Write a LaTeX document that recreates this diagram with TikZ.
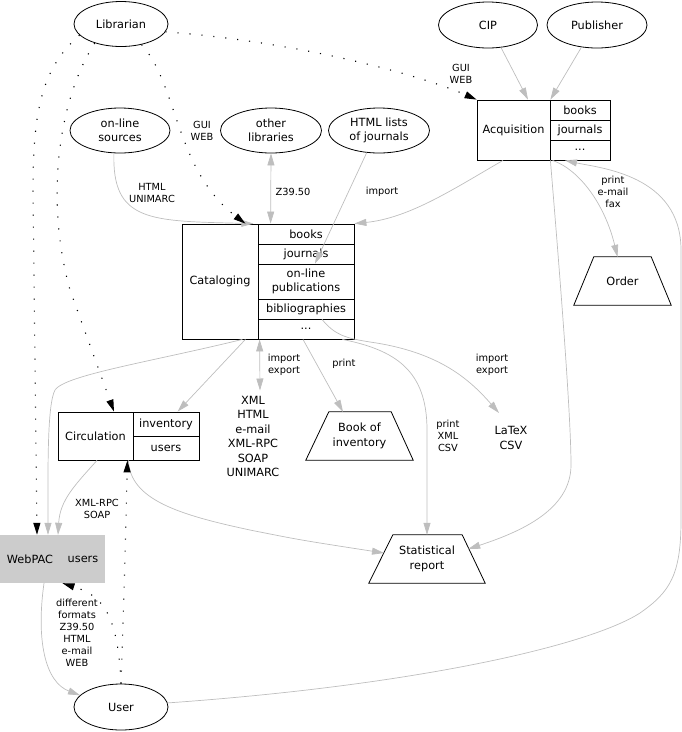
\documentclass[tikz,border=0pt]{standalone}
\usepackage{fontspec}
\setmainfont{DejaVu Sans}
\usetikzlibrary{arrows.meta,shapes.geometric,calc}
\definecolor{edgegray}{HTML}{BEBEBE}
\definecolor{boxgray}{HTML}{CCCCCC}
\newcommand\ndfont{\fontsize{11.3pt}{14.5pt}\selectfont}
\newcommand\lbfont{\fontsize{9.8pt}{12pt}\selectfont}
\begin{document}
\begin{tikzpicture}[x=1pt,y=-1pt,
  every node/.style={inner sep=0pt, font=\ndfont, align=center},
  ell/.style={draw, ellipse, line width=0.8pt},
  cell/.style={draw, rectangle, line width=0.8pt},
  trapbox/.style={rectangle, minimum height=48pt},
  trapline/.style={line width=0.8pt, line join=miter},
  lbl/.style={font=\lbfont, align=center},
  gedge/.style={draw=edgegray, line width=0.7pt, -{Triangle[length=12pt,width=7pt]}},
  gboth/.style={draw=edgegray, line width=0.7pt, {Triangle[length=12pt,width=7pt]}-{Triangle[length=12pt,width=7pt]}},
  dotarrow/.style={draw=black, line width=1.1pt, dash pattern=on 1.1pt off 10.9pt, -{Triangle[length=12pt,width=7pt]}}]
\useasboundingbox (0,0) rectangle (682,732);

% ellipses
\node[ell, minimum width=94pt, minimum height=45pt] (lib) at (121,24) {Librarian};
\node[ell, minimum width=99pt, minimum height=46pt] (cip) at (488,25) {CIP};
\node[ell, minimum width=100pt, minimum height=46pt] (pub) at (597,25) {Publisher};
\node[ell, minimum width=100pt, minimum height=45pt] (ons) at (120,130.5) {on-line\\sources};
\node[ell, minimum width=101pt, minimum height=45pt] (oth) at (271,130.5) {other\\libraries};
\node[ell, minimum width=101pt, minimum height=45pt] (html) at (379,130.5) {HTML lists\\of journals};
\node[ell, minimum width=94pt, minimum height=46pt] (user) at (121,707) {User};

% Acquisition record
\node[cell, minimum width=73pt, minimum height=60pt] (acqL) at (513.5,130) {Acquisition};
\node[cell, minimum width=60pt, minimum height=20pt] (acqB) at (580,110) {books};
\node[cell, minimum width=60pt, minimum height=20pt] (acqJ) at (580,130) {journals};
\node[cell, minimum width=60pt, minimum height=20pt] (acqD) at (580,150) {...};

% Cataloging record
\node[cell, minimum width=76pt, minimum height=115pt] (catL) at (220,281.5) {Cataloging};
\node[cell, minimum width=96pt, minimum height=20pt] (catB) at (306,234) {books};
\node[cell, minimum width=96pt, minimum height=20pt] (catJ) at (306,254) {journals};
\node[cell, minimum width=96pt, minimum height=35pt] (catO) at (306,281.5) {on-line\\publications};
\node[cell, minimum width=96pt, minimum height=20pt] (catBi) at (306,309) {bibliographies};
\node[cell, minimum width=96pt, minimum height=20pt] (catD) at (306,329) {...};

% Circulation record
\node[cell, minimum width=75pt, minimum height=48pt] (circL) at (95.5,436) {Circulation};
\node[cell, minimum width=66pt, minimum height=24pt] (circI) at (166,424) {inventory};
\node[cell, minimum width=66pt, minimum height=24pt] (circU) at (166,448) {users};

% WebPAC
\node[fill=boxgray, minimum width=105pt, minimum height=48pt] (wp) at (52.5,559) {};
\node (wpt) at (30,559) {WebPAC};
\node (wpu) at (83,559) {users};

% trapezoids
\node[trapbox, minimum width=97pt] (order) at (622.5,281) {Order};
\draw[trapline] ([shift={(20,0)}]order.north west) -- ([shift={(-20,0)}]order.north east) -- (order.south east) -- (order.south west) -- cycle;
\node[trapbox, minimum width=107pt] (book) at (359.5,436) {Book of\\inventory};
\draw[trapline] ([shift={(23,0)}]book.north west) -- ([shift={(-22,0)}]book.north east) -- (book.south east) -- (book.south west) -- cycle;
\node[trapbox, minimum width=116pt] (stat) at (427,559) {Statistical\\report};
\draw[trapline] ([shift={(24,0)}]stat.north west) -- ([shift={(-23,0)}]stat.north east) -- (stat.south east) -- (stat.south west) -- cycle;

% plain text nodes
\node (xml) at (253,436.5) {XML\\HTML\\e-mail\\XML-RPC\\SOAP\\UNIMARC};
\node (latex) at (511,438) {LaTeX\\CSV};

% gray edges
\draw[gedge] (cip.-60) -- ([shift={(14.5,0)}]acqL.north);
\draw[gedge] (pub.-125) -- (acqL.north east);
\draw[gedge] (ons.-105) .. controls (112,222) and (150,221) .. ([shift={(-5,0)}]catL.north east);
\draw[gboth] (oth.south) -- ([shift={(13,0)}]catB.north west);
\draw[gedge] (html.-119) -- ([shift={(9,0)}]catO.north);
\draw[gedge] ([shift={(-10.5,0)}]acqL.south) .. controls (455,188) and (410,218) .. (catB.north east);
\draw[gedge] ([shift={(3,0)}]acqD.south west) .. controls (580,170) and (605,205) .. ([shift={(-5,0)}]order.north);
\draw[gedge] (user.5) .. controls (420,685) and (590,645) .. (640,613) .. controls (670,592) and (681,575) .. (681,520) -- (681,250) .. controls (681,175) and (600,168) .. ([shift={(-15,0)}]acqD.south);
\draw[gedge] (acqL.south east) .. controls (562,300) and (571,420) .. (571,465) .. controls (571,510) and (520,532) .. ([shift={(-17,-10)}]stat.east);
\draw[gedge] ([shift={(-13,0)}]catL.south east) -- ([shift={(45,0)}]circI.north west);
\draw[gedge] ([shift={(-16,0)}]catL.south east) .. controls (150,362) and (65,375) .. (55,390) .. controls (47,405) and (48,470) .. ([shift={(-4.5,0)}]wp.north);
\draw[gboth] ([shift={(2,0)}]catD.south west) -- ([shift={(7,-46)}]xml.center);
\draw[gedge] ([shift={(-3,0)}]catD.south) -- ([shift={(-16.5,0)}]book.north);
\draw[gedge] ([shift={(-12,0)}]catD.south east) .. controls (395,350) and (427,370) .. (427,430) -- (stat.north);
\draw[gedge] ([shift={(16,0)}]catBi.south) .. controls (335,335) and (345,338) .. (370,342) .. controls (440,352) and (470,380) .. ([shift={(-12,-25)}]latex.center);
\draw[gedge] ([shift={(-5,0)}]circL.south east) .. controls (130,500) and (180,515) .. (250,530) .. controls (300,540) .. ([shift={(-43,-6)}]stat.center);
\draw[gedge] ([shift={(1.5,0)}]circL.south) .. controls (75,485) and (60,500) .. ([shift={(5.5,0)}]wp.north);
\draw[gedge] ([shift={(-8.5,0)}]wp.south) .. controls (36,640) and (45,682) .. (user.164);

% dotted edges
\draw[dotarrow] (lib.-10) .. controls (300,42) and (420,75) .. (acqL.north west);
\draw[dotarrow] (lib.-45) .. controls (178,85) and (175,170) .. ([shift={(-13,0)}]catL.north east);
\draw[dotarrow] (lib.-144) .. controls (58,100) and (45,200) .. (70,290) -- ([shift={(18.5,0)}]circL.north);
\draw[dotarrow] (lib.-165) .. controls (42,68) and (33,110) .. (33,190) -- ([shift={(-15.5,0)}]wp.north);
\draw[dotarrow] (user.north) .. controls (124,600) and (126,520) .. ([shift={(-6,0)}]circL.south east);
\draw[dotarrow] (user.north) .. controls (118,610) and (100,595) .. ([shift={(10,0)}]wp.south);

% edge labels
\node[lbl] (t1) at (202,131) {GUI\\WEB};
\node[lbl] (t2) at (461,74) {GUI\\WEB};
\node[lbl] (t3) at (152,193) {HTML\\UNIMARC};
\node[lbl] (t4) at (293,192) {Z39.50};
\node[lbl] (t5) at (382,192) {import};
\node[lbl] (t6) at (613,192) {print\\e-mail\\fax};
\node[lbl] (t7) at (284,365) {import\\export};
\node[lbl] (t8) at (344,364) {print};
\node[lbl] (t9) at (492,365) {import\\export};
\node[lbl] (t10) at (448,436) {print\\XML\\CSV};
\node[lbl] (t11) at (97,509) {XML-RPC\\SOAP};
\node[lbl] (t12) at (77,633) {different\\formats\\Z39.50\\HTML\\e-mail\\WEB};
\end{tikzpicture}
\end{document}
